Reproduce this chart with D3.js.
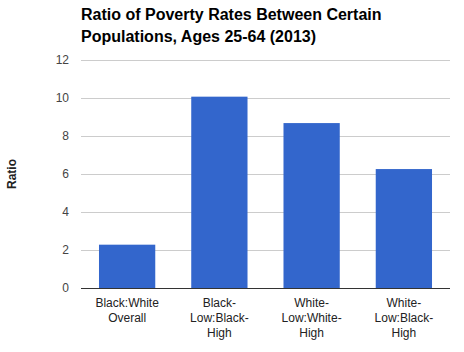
<!DOCTYPE html>
<html><head><meta charset="utf-8">
<script src="https://cdn.jsdelivr.net/npm/d3@7"></script>
<style>body{margin:0;background:#fff}svg{display:block;font-family:Arial,"Liberation Sans",sans-serif}</style>
</head><body><svg id="c" width="464" height="352"></svg>
<script>
const categories = ["Black:White Overall","Black-Low:Black-High","White-Low:White-High","White-Low:Black-High"];
const tickLabelLines = [["Black:White","Overall"],["Black-","Low:Black-","High"],["White-","Low:White-","High"],["White-","Low:Black-","High"]];
const ratios = [2.28, 10.07, 8.68, 6.26];
const yTicks = [0,2,4,6,8,10,12];
const titleLines = ["Ratio of Poverty Rates Between Certain","Populations, Ages 25-64 (2013)"];
const yTitle = "Ratio";

const svg = d3.select("#c");
const m = {l:81, r:14, t:60, b:64};
const W = 464, H = 352;
const x = d3.scaleBand().domain(categories).range([m.l, W - m.r]).paddingInner(0.39).paddingOuter(0.195);
const y = d3.scaleLinear().domain([0,12]).range([H - m.b, m.t]);

// gridlines
svg.append("g").selectAll("line").data(yTicks.filter(d=>d>0)).join("line")
  .attr("x1", m.l).attr("x2", W - m.r)
  .attr("y1", d=>Math.round(y(d))+0.5).attr("y2", d=>Math.round(y(d))+0.5)
  .attr("stroke", "#cccccc").attr("stroke-width",1);

// bars
svg.append("g").selectAll("rect").data(ratios).join("rect")
  .attr("x", (d,i)=>x(categories[i]))
  .attr("width", x.bandwidth())
  .attr("y", d=>y(d))
  .attr("height", d=>y(0)-y(d))
  .attr("fill", "#3366cc");

// baseline
svg.append("line").attr("x1", m.l).attr("x2", W - m.r)
  .attr("y1", Math.round(y(0))+0.5).attr("y2", Math.round(y(0))+0.5)
  .attr("stroke","#333333").attr("stroke-width",1);

// y axis labels
const yAxis = d3.axisLeft(y).tickValues(yTicks).tickSize(0).tickPadding(12).tickFormat(d3.format("d"));
const gy = svg.append("g").attr("transform", `translate(${m.l},0)`).call(yAxis);
gy.select(".domain").remove();
gy.selectAll("text").attr("font-size",12).attr("fill","#444444").attr("font-family","Arial, 'Liberation Sans', sans-serif");

// x axis labels
const xAxis = d3.axisBottom(x).tickSize(0).tickFormat(()=>"");
const gx = svg.append("g").attr("transform", `translate(0,${y(0)})`).call(xAxis);
gx.select(".domain").remove();
gx.selectAll(".tick").each(function(d,i){
  const t = d3.select(this).append("text").attr("text-anchor","middle")
    .attr("font-size",12).attr("fill","#222222").attr("font-family","Arial, 'Liberation Sans', sans-serif");
  tickLabelLines[i].forEach((ln,j)=>{
    t.append("tspan").attr("x",0).attr("y", 19 + j*15.2).text(ln);
  });
});

// y title
svg.append("text").attr("transform", `translate(15.5,${(y(0)+y(12))/2}) rotate(-90)`)
  .attr("text-anchor","middle").attr("font-size",12).attr("font-weight","bold").attr("fill","#222222")
  .text(yTitle);

// title
const tt = svg.append("text").attr("font-size",16).attr("font-weight","bold").attr("fill","#000");
titleLines.forEach((ln,j)=>tt.append("tspan").attr("x", m.l).attr("y", 20 + j*22).text(ln));
</script></body></html>
